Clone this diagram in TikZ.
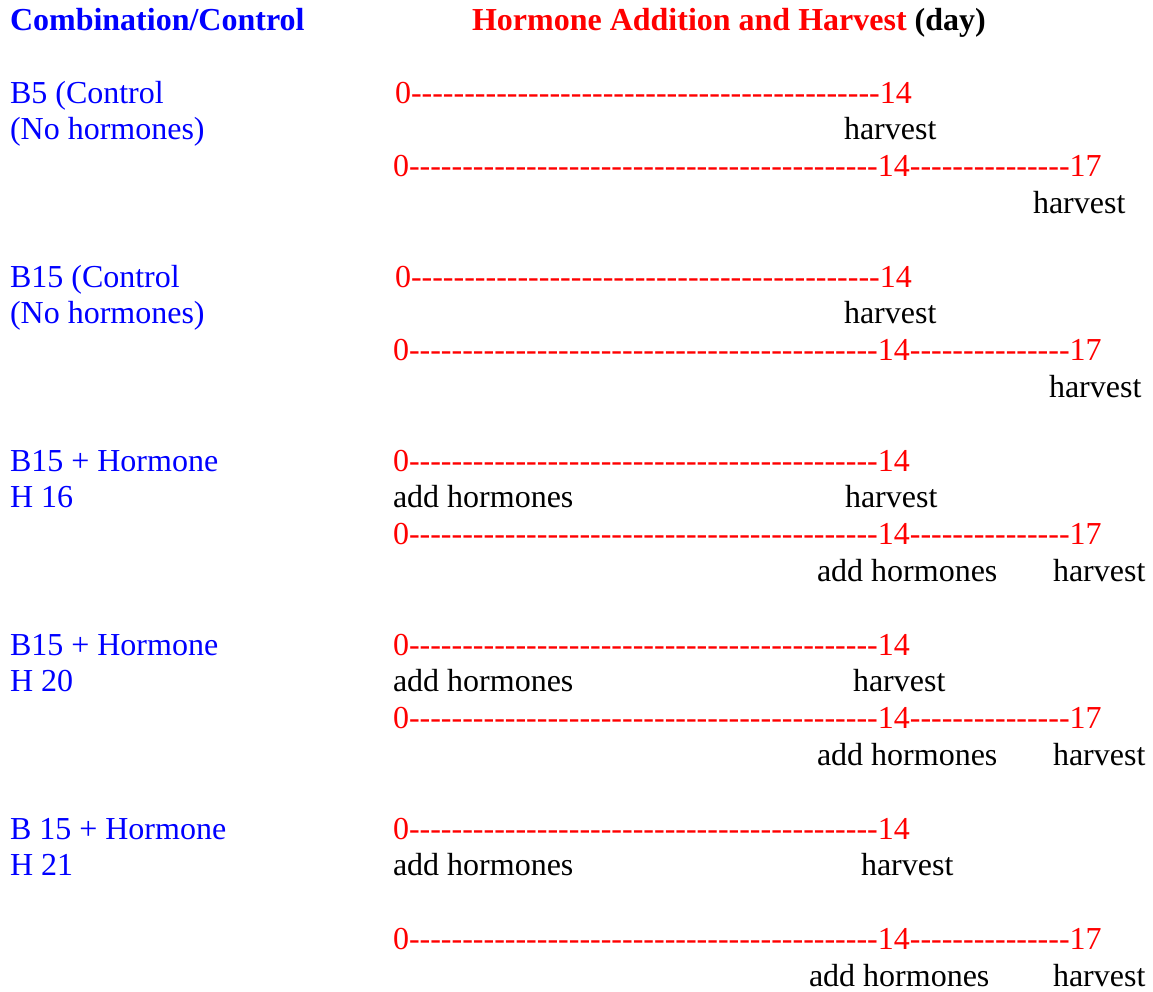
\documentclass[tikz,border=0pt]{standalone}
\usepackage{fontspec}
\setmainfont{Liberation Serif}
\ExplSyntaxOn
\NewDocumentCommand\hyphs{m}{\prg_replicate:nn{#1}{-\kern0pt}}
\ExplSyntaxOff
\definecolor{lblue}{RGB}{0,0,255}
\definecolor{lred}{RGB}{255,0,0}
\tikzset{
  txt/.style={anchor=base west, inner sep=0pt, outer sep=0pt, font=\rmfamily\fontsize{32}{36.8}\selectfont},
  grp/.style={txt, text=lblue},
  tl/.style={txt, text=lred},
  ev/.style={txt, text=black},
  ttl/.style={txt, font=\rmfamily\fontsize{32}{36.8}\selectfont\bfseries}
}
\newcommand\tlshort{0\kern0pt\hyphs{44}14}
\newcommand\tllong{0\kern0pt\hyphs{44}14\kern0pt\hyphs{15}17}
\begin{document}
\begin{tikzpicture}[x=1pt,y=-1pt]
\useasboundingbox[fill=white] (0,0) rectangle (1153,991);
% titles
\node[ttl, text=lblue] (t1) at (10,30) {Combination/Control};
\node[ttl, text=lred] (t2) at (472,30) {Hormone Addition and Harvest};
\node[ttl, text=black, anchor=base west] (t3) at (t2.base east) {\ (day)};
% B5
\node[grp] (g1a) at (10,103) {B5 (Control};
\node[grp] (g1b) at (10,139.8) {(No hormones)};
\node[tl] (l1a) at (395,103) {\tlshort};
\node[ev] (h1a) at (844,139.8) {harvest};
\node[tl] (l1b) at (393,176.6) {\tllong};
\node[ev] (h1b) at (1033,213.4) {harvest};
% B15
\node[grp] (g2a) at (10,287) {B15 (Control};
\node[grp] (g2b) at (10,323.8) {(No hormones)};
\node[tl] (l2a) at (395,287) {\tlshort};
\node[ev] (h2a) at (844,323.8) {harvest};
\node[tl] (l2b) at (393,360.6) {\tllong};
\node[ev] (h2b) at (1049,397.4) {harvest};
% B15 + H16
\node[grp] (g3a) at (10,471) {B15 + Hormone};
\node[grp] (g3b) at (10,507.8) {H 16};
\node[tl] (l3a) at (393,471) {\tlshort};
\node[ev] (a3a) at (393,507.8) {add hormones};
\node[ev] (h3a) at (845,507.8) {harvest};
\node[tl] (l3b) at (393,544.6) {\tllong};
\node[ev] (a3b) at (817,581.4) {add hormones};
\node[ev] (h3b) at (1053,581.4) {harvest};
% B15 + H20
\node[grp] (g4a) at (10,655) {B15 + Hormone};
\node[grp] (g4b) at (10,691.8) {H 20};
\node[tl] (l4a) at (393,655) {\tlshort};
\node[ev] (a4a) at (393,691.8) {add hormones};
\node[ev] (h4a) at (853,691.8) {harvest};
\node[tl] (l4b) at (393,728.6) {\tllong};
\node[ev] (a4b) at (817,765.4) {add hormones};
\node[ev] (h4b) at (1053,765.4) {harvest};
% B 15 + H21
\node[grp] (g5a) at (10,839) {B 15 + Hormone};
\node[grp] (g5b) at (10,875.8) {H 21};
\node[tl] (l5a) at (393,839) {\tlshort};
\node[ev] (a5a) at (393,875.8) {add hormones};
\node[ev] (h5a) at (861,875.8) {harvest};
\node[tl] (l5b) at (393,949.4) {\tllong};
\node[ev] (a5b) at (809,986.2) {add hormones};
\node[ev] (h5b) at (1053,986.2) {harvest};
\end{tikzpicture}
\end{document}
